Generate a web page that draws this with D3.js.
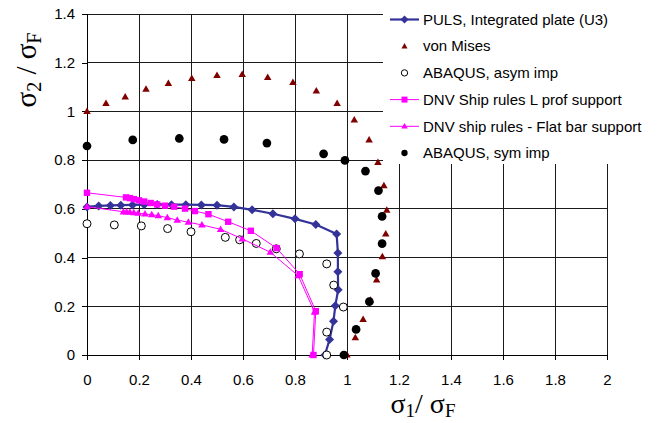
<!DOCTYPE html>
<html>
<head>
<meta charset="utf-8">
<script src="https://cdn.jsdelivr.net/npm/d3@7"></script>
<style>
  html, body { margin: 0; padding: 0; background: #fff; }
  svg { display: block; }
</style>
</head>
<body>
<svg id="chart" width="658" height="423"></svg>
<script>
// Biaxial plate strength: sigma_1/sigma_F vs sigma_2/sigma_F
const xTicks = [0, 0.2, 0.4, 0.6, 0.8, 1, 1.2, 1.4, 1.6, 1.8, 2];
const yTicks = [0, 0.2, 0.4, 0.6, 0.8, 1, 1.2, 1.4];

const pulsS1 = [0, 0.045, 0.09, 0.13, 0.175, 0.22, 0.27, 0.325, 0.38, 0.44, 0.50, 0.565, 0.635, 0.715, 0.80, 0.88, 0.96, 0.965, 0.965, 0.966, 0.955, 0.948, 0.933, 0.915];
const pulsS2 = [0.608, 0.612, 0.614, 0.615, 0.616, 0.617, 0.618, 0.617, 0.617, 0.616, 0.615, 0.608, 0.596, 0.58, 0.559, 0.536, 0.497, 0.419, 0.342, 0.268, 0.202, 0.139, 0.064, 0];

const vmS1 = [0, 0.073, 0.147, 0.227, 0.313, 0.403, 0.5, 0.597, 0.695, 0.792, 0.882, 0.962, 1.028, 1.085, 1.119, 1.142, 1.153, 1.149, 1.136, 1.114, 1.09, 1.062, 1.032, 1.0];
const vmS2 = [1.0, 1.033, 1.06, 1.091, 1.115, 1.136, 1.148, 1.152, 1.14, 1.119, 1.084, 1.033, 0.965, 0.883, 0.791, 0.695, 0.595, 0.497, 0.404, 0.308, 0.225, 0.146, 0.071, 0];

const asymS1 = [0, 0.105, 0.209, 0.31, 0.40, 0.532, 0.587, 0.651, 0.728, 0.817, 0.922, 0.949, 0.986, 0.922, 0.922];
const asymS2 = [0.539, 0.534, 0.53, 0.519, 0.506, 0.483, 0.473, 0.458, 0.436, 0.415, 0.374, 0.287, 0.197, 0.094, 0];

const dnvLS1 = [0, 0.15, 0.165, 0.18, 0.2, 0.22, 0.245, 0.27, 0.30, 0.335, 0.377, 0.415, 0.467, 0.543, 0.63, 0.729, 0.818, 0.88, 0.871];
const dnvLS2 = [0.666, 0.647, 0.644, 0.640, 0.635, 0.630, 0.624, 0.618, 0.613, 0.609, 0.601, 0.591, 0.578, 0.547, 0.51, 0.439, 0.332, 0.18, 0];

const dnvFS1 = [0, 0.14, 0.152, 0.165, 0.18, 0.197, 0.223, 0.249, 0.274, 0.309, 0.347, 0.39, 0.442, 0.514, 0.597, 0.705, 0.812, 0.875, 0.866];
const dnvFS2 = [0.609, 0.588, 0.587, 0.586, 0.584, 0.582, 0.579, 0.576, 0.572, 0.564, 0.554, 0.545, 0.534, 0.516, 0.477, 0.422, 0.326, 0.176, 0];

const symS1 = [0, 0.176, 0.355, 0.527, 0.692, 0.91, 0.992, 1.071, 1.121, 1.135, 1.135, 1.11, 1.086, 1.035, 0.988];
const symS2 = [0.858, 0.883, 0.889, 0.885, 0.87, 0.826, 0.799, 0.755, 0.675, 0.569, 0.457, 0.335, 0.219, 0.105, 0];

const seriesNames = [
  "PULS, Integrated plate (U3)",
  "von Mises",
  "ABAQUS, asym imp",
  "DNV Ship rules L prof support",
  "DNV ship rules - Flat bar support",
  "ABAQUS, sym imp"
];

const zip = (a, b) => a.map((v, i) => [v, b[i]]);

const svg = d3.select("#chart");
const x = d3.scaleLinear().domain([0, 2]).range([87, 607]);
const y = d3.scaleLinear().domain([0, 1.4]).range([355, 14]);

const FONT = "'Liberation Sans', Arial, sans-serif";

// grid
const grid = svg.append("g").attr("shape-rendering", "crispEdges");
grid.selectAll(".vg").data(xTicks.filter(d => d > 0)).join("line")
  .attr("x1", d => x(d)).attr("x2", d => x(d))
  .attr("y1", y(1.4)).attr("y2", y(0))
  .attr("stroke", "#1a1a1a").attr("stroke-width", 1);
grid.selectAll(".hg").data(yTicks.filter(d => d > 0)).join("line")
  .attr("x1", x(0)).attr("x2", x(2))
  .attr("y1", d => y(d)).attr("y2", d => y(d))
  .attr("stroke", "#1a1a1a").attr("stroke-width", 1);

// axes
const fmt = d => d3.format("~g")(d);
const xAxis = svg.append("g")
  .attr("transform", `translate(0,${y(0)})`)
  .call(d3.axisBottom(x).tickValues(xTicks).tickFormat(fmt).tickSize(5).tickPadding(14));
const yAxis = svg.append("g")
  .attr("transform", `translate(${x(0)},0)`)
  .call(d3.axisLeft(y).tickValues(yTicks).tickFormat(fmt).tickSize(5).tickPadding(7));
[xAxis, yAxis].forEach(g => {
  g.attr("shape-rendering", "crispEdges");
  g.select(".domain").attr("stroke", "#000");
  g.selectAll(".tick line").attr("stroke", "#000");
  g.selectAll(".tick text").attr("font-family", FONT).attr("font-size", 15).attr("fill", "#000");
});

// marker shapes
function diamondPath(r) { return `M0,${-r}L${r},0L0,${r}L${-r},0Z`; }
function squarePath(h) { return `M${-h},${-h}H${h}V${h}H${-h}Z`; }
function trianglePath(w, h) { return `M0,${-h * 0.6}L${w / 2},${h * 0.4}L${-w / 2},${h * 0.4}Z`; }

const line = d3.line().x(d => x(d[0])).y(d => y(d[1]));
const plot = svg.append("g");

function drawSeries(pts, opts) {
  const g = plot.append("g");
  if (opts.lineColor) {
    g.append("path").attr("d", line(pts)).attr("fill", "none")
      .attr("stroke", opts.lineColor).attr("stroke-width", opts.lineWidth)
      .attr("stroke-linejoin", "round");
  }
  g.selectAll("path.m").data(pts).join("path").attr("class", "m")
    .attr("d", opts.shape)
    .attr("transform", d => `translate(${x(d[0])},${y(d[1])})`)
    .attr("fill", opts.fill).attr("stroke", opts.stroke || "none")
    .attr("stroke-width", opts.strokeWidth || 0);
}

const styles = [
  { lineColor: "#333399", lineWidth: 2.2, shape: diamondPath(4.5), fill: "#333399",
    legendShape: diamondPath(4) },
  { shape: trianglePath(7.5, 6.5), fill: "#800000", legendShape: trianglePath(6, 5.5) },
  { shape: d3.symbol().type(d3.symbolCircle).size(Math.PI * 16)(), fill: "#fff", stroke: "#000", strokeWidth: 1,
    legendShape: d3.symbol().type(d3.symbolCircle).size(Math.PI * 10)() },
  { lineColor: "#ff00ff", lineWidth: 1, shape: squarePath(3.2), fill: "#ff00ff", legendShape: squarePath(3) },
  { lineColor: "#ff00ff", lineWidth: 1, shape: trianglePath(7.5, 6.5), fill: "#ff00ff", legendShape: trianglePath(6.5, 5.5) },
  { shape: d3.symbol().type(d3.symbolCircle).size(Math.PI * 19)(), fill: "#000",
    legendShape: d3.symbol().type(d3.symbolCircle).size(Math.PI * 10)() }
];

drawSeries(zip(pulsS1, pulsS2), styles[0]);
drawSeries(zip(vmS1, vmS2), styles[1]);
drawSeries(zip(asymS1, asymS2), styles[2]);
drawSeries(zip(dnvFS1, dnvFS2), styles[4]);
drawSeries(zip(dnvLS1, dnvLS2), styles[3]);
drawSeries(zip(symS1, symS2), styles[5]);

// legend
const legend = svg.append("g");
legend.append("rect").attr("x", 383).attr("y", 0).attr("width", 275).attr("height", 164).attr("fill", "#fff");
const rowY = i => 19.5 + i * 26.7;
seriesNames.forEach((name, i) => {
  const st = styles[i];
  const g = legend.append("g").attr("transform", `translate(0,${rowY(i)})`);
  if (st.lineColor) {
    g.append("line").attr("x1", 390).attr("x2", 419).attr("y1", 0).attr("y2", 0)
      .attr("stroke", st.lineColor).attr("stroke-width", st.lineWidth);
  }
  g.append("path").attr("d", st.legendShape).attr("transform", "translate(404.5,0)")
    .attr("fill", st.fill).attr("stroke", st.stroke || "none").attr("stroke-width", st.strokeWidth || 0);
  g.append("text").attr("x", 423).attr("y", 0).attr("dy", "0.35em")
    .attr("font-family", FONT).attr("font-size", 15).attr("fill", "#000").text(name);
});

// axis titles
const SERIF = "'Liberation Serif', 'Times New Roman', serif";
const xt = svg.append("text").attr("x", 423).attr("y", 413).attr("text-anchor", "middle")
  .attr("font-family", SERIF).attr("font-size", 28).attr("fill", "#000");
xt.append("tspan").text("σ");
xt.append("tspan").attr("font-size", 19).attr("dy", 4).text("1");
xt.append("tspan").attr("dy", -4).text("/ σ");
xt.append("tspan").attr("font-size", 19).attr("dy", 4).text("F");

const yt = svg.append("text").attr("transform", "translate(36,70) rotate(-90)").attr("text-anchor", "middle")
  .attr("font-family", SERIF).attr("font-size", 29).attr("fill", "#000");
yt.append("tspan").text("σ");
yt.append("tspan").attr("font-size", 20).attr("dy", 5).text("2");
yt.append("tspan").attr("dy", -5).text(" / σ");
yt.append("tspan").attr("font-size", 20).attr("dy", 5).text("F");
</script>
</body>
</html>
